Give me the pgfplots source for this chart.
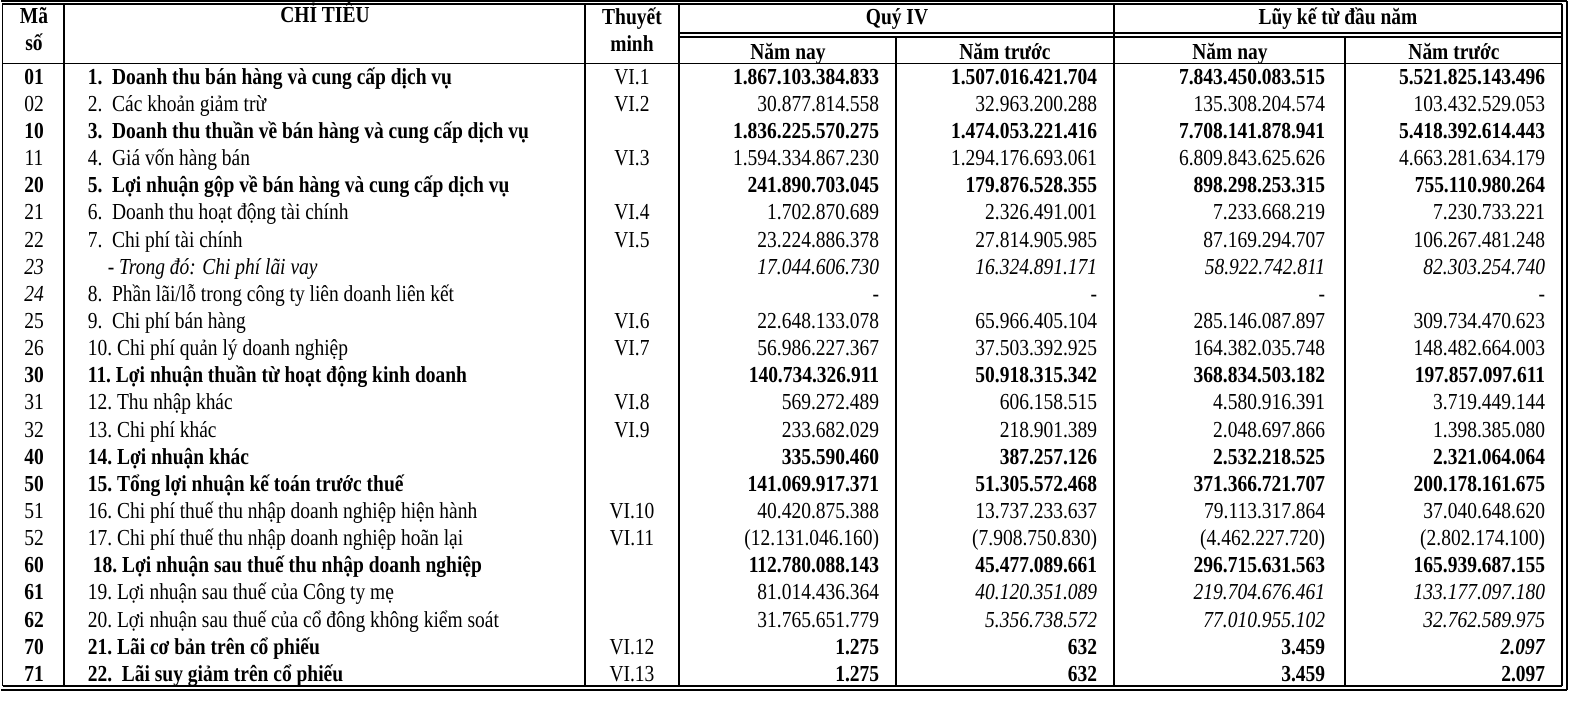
\documentclass[border=0pt]{standalone}
\usepackage{pgfplots}
\pgfplotsset{compat=1.18}
\usepackage{fontspec}
\setmainfont{Liberation Serif}[FakeStretch=0.85]
\newcommand{\B}[1]{\textbf{#1}}
\newcommand{\I}[1]{\textit{#1}}
\newcommand{\BI}[1]{\textbf{\textit{#1}}}
% one table row: y, code, label, note, Q4 this year, Q4 last year, YTD this year, YTD last year
\newcommand{\tabrow}[8]{%
  \node[anchor=mid] at (axis cs:34,#1) {#2};
  \node[anchor=mid west] at (axis cs:80,#1) {#3};
  \node[anchor=mid] at (axis cs:632,#1) {#4};
  \node[anchor=mid east] at (axis cs:887,#1) {#5};
  \node[anchor=mid east] at (axis cs:1105,#1) {#6};
  \node[anchor=mid east] at (axis cs:1333,#1) {#7};
  \node[anchor=mid east] at (axis cs:1553,#1) {#8};
}
\begin{document}
\fontsize{23}{27}\selectfont
\begin{tikzpicture}
\begin{axis}[
  scale only axis, width=1573bp, height=712bp,
  xmin=0, xmax=1573, ymin=0, ymax=712, y dir=reverse,
  axis lines=none, clip=false,
  every node/.style={inner sep=0pt, font=\fontsize{23}{27}\selectfont},
]
\addplot[draw=none] coordinates {(0,0) (1573,712)};
% frame and rules
\draw[line width=1.9bp] (axis cs:2.5,3) -- (axis cs:2.5,686);
\draw[line width=1.2bp] (axis cs:1,1) -- (axis cs:1567,1);
\draw[line width=1.7bp] (axis cs:2.5,4) -- (axis cs:1562,4);
\draw[line width=1.7bp] (axis cs:1562,4) -- (axis cs:1562,686);
\draw[line width=1.2bp] (axis cs:1567,1) -- (axis cs:1567,690);
\draw[line width=1.7bp] (axis cs:2.5,686) -- (axis cs:1562,686);
\draw[line width=1.2bp] (axis cs:1,690) -- (axis cs:1567,690);
\draw[line width=1.7bp] (axis cs:2.5,63.5) -- (axis cs:1562,63.5);
\draw[line width=1.2bp] (axis cs:679,33) -- (axis cs:1562,33);
\draw[line width=1.7bp] (axis cs:679,37) -- (axis cs:1562,37);
\draw[line width=1.7bp] (axis cs:64,4) -- (axis cs:64,686);
\draw[line width=1.7bp] (axis cs:585,4) -- (axis cs:585,686);
\draw[line width=1.7bp] (axis cs:679,4) -- (axis cs:679,686);
\draw[line width=1.7bp] (axis cs:896,37) -- (axis cs:896,686);
\draw[line width=1.9bp] (axis cs:1114,4) -- (axis cs:1114,686);
\draw[line width=1.7bp] (axis cs:1345,37) -- (axis cs:1345,686);
% header
\node[anchor=mid] at (axis cs:34,18) {\B{Mã}};
\node[anchor=mid] at (axis cs:34,45) {\B{số}};
\node[anchor=mid] at (axis cs:325,17) {\B{CHỈ TIÊU}};
\node[anchor=mid] at (axis cs:632,19) {\B{Thuyết}};
\node[anchor=mid] at (axis cs:632,46) {\B{minh}};
\node[anchor=mid] at (axis cs:897,19) {\B{Quý IV}};
\node[anchor=mid] at (axis cs:1338,19) {\B{Lũy kế từ đầu năm}};
\node[anchor=mid] at (axis cs:788,54) {\B{Năm nay}};
\node[anchor=mid] at (axis cs:1005,54) {\B{Năm trước}};
\node[anchor=mid] at (axis cs:1230,54) {\B{Năm nay}};
\node[anchor=mid] at (axis cs:1454,54) {\B{Năm trước}};
% body
\tabrow{79.0}{\B{01}}{\B{1.~~Doanh thu bán hàng và cung cấp dịch vụ}}{VI.1}{\B{1.867.103.384.833}}{\B{1.507.016.421.704}}{\B{7.843.450.083.515}}{\B{5.521.825.143.496}}
\tabrow{106.1}{02}{2.~~Các khoản giảm trừ}{VI.2}{30.877.814.558}{32.963.200.288}{135.308.204.574}{103.432.529.053}
\tabrow{133.3}{\B{10}}{\B{3.~~Doanh thu thuần về bán hàng và cung cấp dịch vụ}}{}{\B{1.836.225.570.275}}{\B{1.474.053.221.416}}{\B{7.708.141.878.941}}{\B{5.418.392.614.443}}
\tabrow{160.4}{11}{4.~~Giá vốn hàng bán}{VI.3}{1.594.334.867.230}{1.294.176.693.061}{6.809.843.625.626}{4.663.281.634.179}
\tabrow{187.6}{\B{20}}{\B{5.~~Lợi nhuận gộp về bán hàng và cung cấp dịch vụ}}{}{\B{241.890.703.045}}{\B{179.876.528.355}}{\B{898.298.253.315}}{\B{755.110.980.264}}
\tabrow{214.7}{21}{6.~~Doanh thu hoạt động tài chính}{VI.4}{1.702.870.689}{2.326.491.001}{7.233.668.219}{7.230.733.221}
\tabrow{241.8}{22}{7.~~Chi phí tài chính}{VI.5}{23.224.886.378}{27.814.905.985}{87.169.294.707}{106.267.481.248}
\tabrow{269.0}{\I{23}}{\hspace{20bp}\I{- Trong đó: Chi phí lãi vay}}{}{\I{17.044.606.730}}{\I{16.324.891.171}}{\I{58.922.742.811}}{\I{82.303.254.740}}
\tabrow{296.1}{\I{24}}{8.~~Phần lãi/lỗ trong công ty liên doanh liên kết}{}{-}{-}{-}{-}
\tabrow{323.3}{25}{9.~~Chi phí bán hàng}{VI.6}{22.648.133.078}{65.966.405.104}{285.146.087.897}{309.734.470.623}
\tabrow{350.4}{26}{10.~Chi phí quản lý doanh nghiệp}{VI.7}{56.986.227.367}{37.503.392.925}{164.382.035.748}{148.482.664.003}
\tabrow{377.5}{\B{30}}{\B{11.~Lợi nhuận thuần từ hoạt động kinh doanh}}{}{\B{140.734.326.911}}{\B{50.918.315.342}}{\B{368.834.503.182}}{\B{197.857.097.611}}
\tabrow{404.7}{31}{12.~Thu nhập khác}{VI.8}{569.272.489}{606.158.515}{4.580.916.391}{3.719.449.144}
\tabrow{431.8}{32}{13.~Chi phí khác}{VI.9}{233.682.029}{218.901.389}{2.048.697.866}{1.398.385.080}
\tabrow{459.0}{\B{40}}{\B{14.~Lợi nhuận khác}}{}{\B{335.590.460}}{\B{387.257.126}}{\B{2.532.218.525}}{\B{2.321.064.064}}
\tabrow{486.1}{\B{50}}{\B{15.~Tổng lợi nhuận kế toán trước thuế}}{}{\B{141.069.917.371}}{\B{51.305.572.468}}{\B{371.366.721.707}}{\B{200.178.161.675}}
\tabrow{513.2}{51}{16.~Chi phí thuế thu nhập doanh nghiệp hiện hành}{VI.10}{40.420.875.388}{13.737.233.637}{79.113.317.864}{37.040.648.620}
\tabrow{540.4}{52}{17.~Chi phí thuế thu nhập doanh nghiệp hoãn lại}{VI.11}{(12.131.046.160)}{(7.908.750.830)}{(4.462.227.720)}{(2.802.174.100)}
\tabrow{567.5}{\B{60}}{\hspace{5bp}\B{18.~Lợi nhuận sau thuế thu nhập doanh nghiệp}}{}{\B{112.780.088.143}}{\B{45.477.089.661}}{\B{296.715.631.563}}{\B{165.939.687.155}}
\tabrow{594.7}{\B{61}}{19.~Lợi nhuận sau thuế của Công ty mẹ}{}{81.014.436.364}{\I{40.120.351.089}}{\I{219.704.676.461}}{\I{133.177.097.180}}
\tabrow{621.8}{\B{62}}{20.~Lợi nhuận sau thuế của cổ đông không kiểm soát}{}{31.765.651.779}{\I{5.356.738.572}}{\I{77.010.955.102}}{\I{32.762.589.975}}
\tabrow{648.9}{\B{70}}{\B{21.~Lãi cơ bản trên cổ phiếu}}{VI.12}{\B{1.275}}{\B{632}}{\B{3.459}}{\BI{2.097}}
\tabrow{676.0}{\B{71}}{\B{22.~~Lãi suy giảm trên cổ phiếu}}{VI.13}{\B{1.275}}{\B{632}}{\B{3.459}}{\B{2.097}}
\end{axis}
\pgfresetboundingbox
\path[use as bounding box] (current axis.south west) rectangle (current axis.north east);
\end{tikzpicture}
\end{document}
